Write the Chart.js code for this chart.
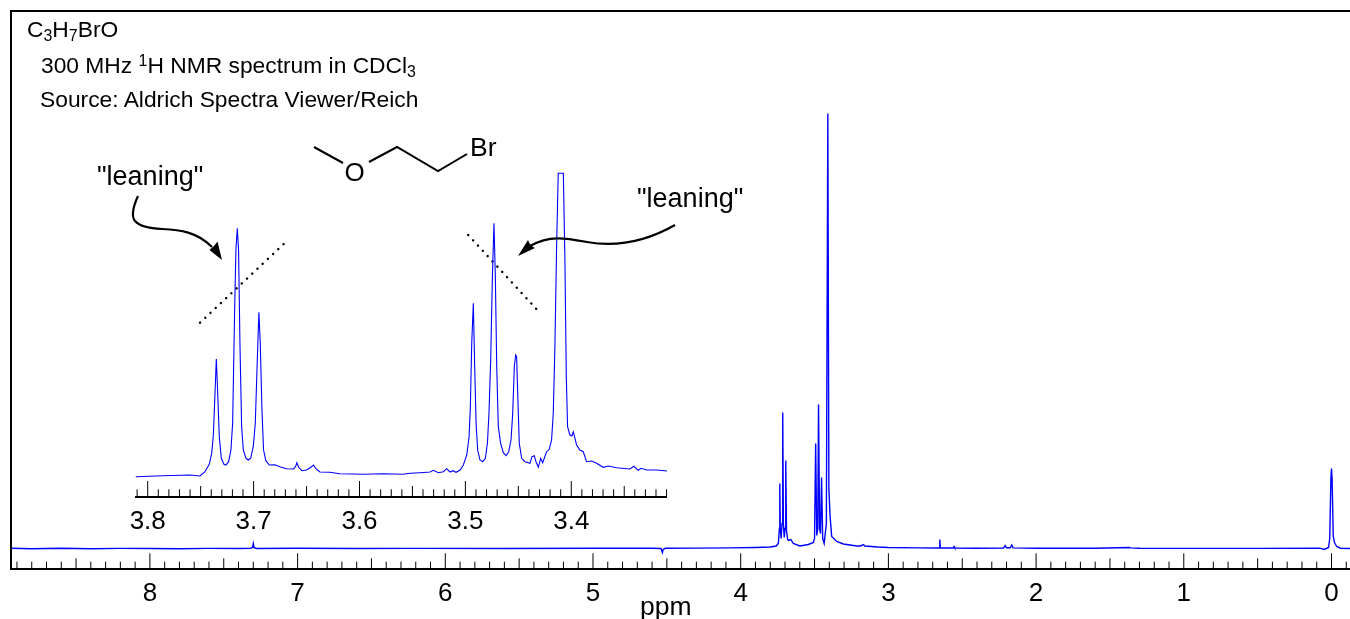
<!DOCTYPE html>
<html>
<head>
<meta charset="utf-8">
<script src="https://cdn.jsdelivr.net/npm/chart.js@4"></script>
<style>
html,body{margin:0;padding:0;background:#fff;width:1350px;height:619px;overflow:hidden}
canvas,svg{position:absolute;left:0;top:0}
.t{position:absolute;font-family:"Liberation Sans",Arial,sans-serif;color:#000;white-space:nowrap;line-height:1}
.t sub,.t sup{font-size:70%;line-height:0}
.t sub{vertical-align:-0.25em}
.t sup{vertical-align:0.42em}
</style>
</head>
<body>
<canvas id="main" width="1350" height="619"></canvas>
<canvas id="inset" width="1350" height="619"></canvas>
<svg width="1350" height="619" fill="none" stroke="#000">
  <path stroke-width="2" d="M314 147L343 163M369 162L397 147L438 171L467 154"/>
  <path stroke-width="2.2" d="M138 196C133 207 131 216 135 221C140 227 150 228.5 162 229C180 229.8 197 232 212 247"/>
  <path fill="#000" stroke="none" d="M222 260L209.5 250Q214 247 217.5 241.5Z"/>
  <path stroke-width="2.2" d="M675 225C640 245 610 246 587 242C565 238 550 235 530 246"/>
  <path fill="#000" stroke="none" d="M518 256L528 240Q530 246 535 248Z"/>
</svg>
<div class="t" style="left:27px;top:18px;font-size:22.8px">C<sub>3</sub>H<sub>7</sub>BrO</div>
<div class="t" style="left:41px;top:54px;font-size:22.8px">300 MHz <sup>1</sup>H NMR spectrum in CDCl<sub>3</sub></div>
<div class="t" style="left:40px;top:88px;font-size:22.8px">Source: Aldrich Spectra Viewer/Reich</div>
<div class="t" style="left:97px;top:163px;font-size:27px">"leaning"</div>
<div class="t" style="left:637px;top:185px;font-size:27px">"leaning"</div>
<div class="t" style="left:344.4px;top:159px;font-size:26px">O</div>
<div class="t" style="left:470px;top:134px;font-size:26.5px">Br</div>
<div class="t" style="left:640px;top:593px;font-size:26.5px">ppm</div>
<script>
const mainTickLabels = ['8','7','6','5','4','3','2','1','0'];
const insetTickLabels = ['3.8','3.7','3.6','3.5','3.4'];

const mainPpm = [8.94,8.80,8.60,8.40,8.20,8.00,7.80,7.60,7.40,7.32,7.305,7.30,7.295,7.28,7.00,6.60,6.20,5.60,5.00,4.60,4.54,4.53,4.525,4.51,4.30,4.07,3.90,3.80,3.76,3.745,3.738,3.7352,3.732,3.726,3.72,3.7154,3.711,3.705,3.70,3.695,3.69,3.682,3.678,3.660,3.644,3.599,3.542,3.508,3.50,3.4925,3.485,3.478,3.473,3.466,3.46,3.4525,3.445,3.435,3.42,3.41,3.403,3.395,3.384,3.35,3.305,3.214,3.19,3.169,3.16,3.07,3.0,2.8,2.66,2.656,2.652,2.648,2.56,2.555,2.55,2.4,2.22,2.21,2.2,2.175,2.165,2.155,2.0,1.6,1.37,1.36,1.3,1.0,0.5,0.08,0.05,0.02,0.012,0.004,0,-0.004,-0.012,-0.02,-0.035,-0.06,-0.126];
const mainHeight = [0.2,-0.2,0.2,-0.2,0.1,0,-0.2,0.1,0,0.1,1,5,1,0,0.2,0,0.1,0,0.2,0.2,0,-4,-1,0.2,0.4,0.6,1,1.5,2.5,5,20,65,20,10,25,136,25,11,20,88,18,9,8,9,5,2.5,4,6,10,105,13,20,144,20,15,71,10,5,25,435,60,33,12,7,4.5,2.5,2.5,4,2.5,1.5,1,0.6,0.5,0.5,9,0.5,0.5,2,0.5,0.3,0.5,3,0.8,0.7,3.5,0.6,0.3,0.2,1,0.6,0.2,0.1,0.1,0.3,-1,1,10,70,80,70,12,6,2,0.3,0];

const insetPpm = [3.8113,3.7852,3.7601,3.7506,3.7459,3.7418,3.7396,3.7381,3.7368,3.7352,3.7340,3.7324,3.7305,3.7280,3.7261,3.7236,3.7214,3.7198,3.7179,3.7167,3.7154,3.7142,3.7129,3.7113,3.7097,3.7072,3.7050,3.7028,3.7003,3.6984,3.6965,3.6950,3.6937,3.6921,3.6906,3.6884,3.6852,3.6799,3.6752,3.6689,3.6626,3.6604,3.6591,3.6575,3.6544,3.6500,3.6453,3.6434,3.6415,3.6374,3.6280,3.6186,3.5965,3.5777,3.5588,3.5522,3.5428,3.5333,3.5302,3.5255,3.5208,3.5176,3.5145,3.5119,3.5088,3.5050,3.5019,3.4987,3.4965,3.4953,3.4940,3.4925,3.4912,3.4899,3.4884,3.4862,3.4836,3.4811,3.4792,3.4777,3.4761,3.4745,3.4730,3.4717,3.4704,3.4689,3.4667,3.4642,3.4616,3.4591,3.4569,3.4553,3.4538,3.4525,3.4516,3.4506,3.4491,3.4469,3.4437,3.4390,3.4371,3.4349,3.4333,3.4311,3.4289,3.4270,3.4233,3.4208,3.4186,3.4170,3.4154,3.4138,3.4123,3.4075,3.4060,3.4047,3.4035,3.4013,3.3994,3.3981,3.3965,3.3950,3.3918,3.3887,3.3855,3.3808,3.3761,3.3698,3.3651,3.3572,3.3447,3.3409,3.3368,3.3340,3.3289,3.3195,3.3094];
const insetHeight = [20.3,21.3,22,21,25.3,33,43.7,60.3,93.7,138,107,60.3,38.7,32.7,32,35.3,47,73.7,187,247,268.7,247,153.7,70.3,47,38.7,37,38.7,50.3,73.7,137,184.7,153.7,87,47,36.3,32,32.3,30.3,28.3,28,30.3,34.3,29.7,26.3,27,30.3,32,28.7,25,24.7,23.3,22.7,23.3,22.7,23.7,24.3,25,26.7,24.3,25.3,28.3,25,26.3,24.7,27,32,42,60.3,90.3,153.7,193.7,130.3,73.7,47,37,35.3,38.7,53.7,83.7,137,220.3,273.7,220.3,130.3,70.3,53.7,44.3,41.3,45.3,57,83.7,130.3,142,140.3,103.7,53.7,38.7,35.3,33.7,40.3,41.3,35.3,29.7,38.7,34.3,45.3,47.7,57,83.7,153.7,253.7,323.7,323.7,237,120.3,70.3,62,61,65.3,58.7,52,47,45.3,35.3,36,33.7,29.7,31,29.3,28,30.7,26.7,28.7,27,27,26];

const leanLeftPpm = [3.7506,3.6675];
const leanLeftHeight = [174.3,257];
const leanRightPpm = [3.4973,3.4295];
const leanRightHeight = [262,184];

const pts = (xs, ys) => xs.map((x, i) => ({x, y: ys[i]}));
const FONT = '"Liberation Sans", Arial, sans-serif';

// Inward tick marks with three lengths, taken from the scale's own ticks
function tickPlugin(unitsPerStep, lens, frame) {
  return {
    id: 'nmrTicks',
    afterDraw(chart) {
      const s = chart.scales.x, c = chart.ctx, a = chart.chartArea;
      c.save();
      c.strokeStyle = '#000';
      c.lineWidth = 1;
      s.ticks.forEach(t => {
        const n = Math.round(t.value * unitsPerStep);
        const len = n % 10 === 0 ? lens[0] : n % 5 === 0 ? lens[1] : lens[2];
        const x = s.getPixelForValue(t.value);
        c.beginPath();
        c.moveTo(x, a.bottom);
        c.lineTo(x, a.bottom - len);
        c.stroke();
      });
      c.lineWidth = 2;
      c.beginPath();
      if (frame) {
        c.moveTo(a.left, a.bottom + 1);
        c.lineTo(a.left, a.top);
        c.lineTo(a.right, a.top);
      }
      c.moveTo(a.left, a.bottom);
      c.lineTo(a.right, a.bottom);
      c.stroke();
      c.restore();
    }
  };
}

function xAxis(min, max, step, labels, bottomPx, pad, fmt) {
  return {
    type: 'linear', reverse: true, min, max,
    afterFit(sc) { sc.height = 619 - bottomPx; sc.paddingLeft = 0; sc.paddingRight = 0; },
    grid: {display: false, drawTicks: false},
    border: {display: false},
    ticks: {
      stepSize: step, includeBounds: false, autoSkip: false, maxRotation: 0, minRotation: 0,
      padding: pad, color: '#000', font: {family: FONT, size: 26},
      callback(v) { const s = fmt(v); return labels.includes(s) ? s : ''; }
    }
  };
}

new Chart(document.getElementById('main'), {
  type: 'scatter',
  data: {datasets: [{
    label: 'C3H7BrO 300 MHz 1H NMR',
    data: pts(mainPpm, mainHeight),
    showLine: true, pointRadius: 0, borderColor: '#0000ff', borderWidth: 1.4, tension: 0
  }]},
  options: {
    responsive: false, animation: false,
    layout: {padding: {left: 11, top: 11, right: 0, bottom: 0}},
    plugins: {legend: {display: false}, tooltip: {enabled: false}},
    scales: {
      x: xAxis(-0.1253, 8.9404, 0.1, mainTickLabels, 569, 9.5, v => Math.abs(v - Math.round(v)) < 0.001 ? String(Math.round(v)) : ''),
      y: {display: false, min: -20.5, max: 537.5}
    }
  },
  plugins: [tickPlugin(10, [15.7, 10.7, 7.3], true)]
});

new Chart(document.getElementById('inset'), {
  type: 'scatter',
  data: {datasets: [
    {label: 'expansion', data: pts(insetPpm, insetHeight), showLine: true, pointRadius: 0, borderColor: '#0000ff', borderWidth: 1.1, tension: 0},
    {label: 'leaning left', data: pts(leanLeftPpm, leanLeftHeight), showLine: true, pointRadius: 0, borderColor: '#000', borderWidth: 2.4, borderCapStyle: 'round', borderDash: [0.1, 7.06]},
    {label: 'leaning right', data: pts(leanRightPpm, leanRightHeight), showLine: true, pointRadius: 0, borderColor: '#000', borderWidth: 2.4, borderCapStyle: 'round', borderDash: [0.1, 7.06]}
  ]},
  options: {
    responsive: false, animation: false,
    layout: {padding: {left: 135, top: 160, right: 683, bottom: 0}},
    plugins: {legend: {display: false}, tooltip: {enabled: false}},
    scales: {
      x: xAxis(3.3096, 3.812, 0.01, insetTickLabels, 497, 9, v => Math.abs(v * 10 - Math.round(v * 10)) < 0.01 ? v.toFixed(1) : ''),
      y: {display: false, min: 0, max: 337}
    }
  },
  plugins: [tickPlugin(100, [16, 11, 7.7], false)]
});
</script>
</body>
</html>
